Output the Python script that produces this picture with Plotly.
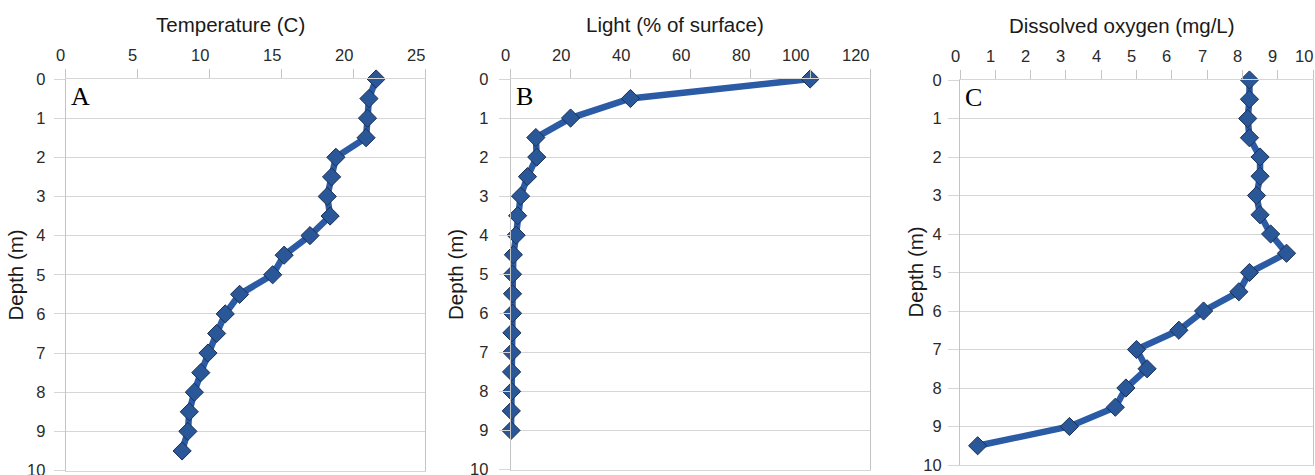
import plotly.graph_objects as go

# ---- data ----
depth_temp = [0, 0.5, 1, 1.5, 2, 2.5, 3, 3.5, 4, 4.5, 5, 5.5, 6, 6.5, 7, 7.5, 8, 8.5, 9, 9.5]
temperature = [21.6, 21.1, 21.0, 20.9, 18.8, 18.5, 18.2, 18.4, 17.0, 15.2, 14.4, 12.1, 11.1, 10.5, 9.9, 9.4, 8.95, 8.6, 8.5, 8.1]

depth_light = [0, 0.5, 1, 1.5, 2, 2.5, 3, 3.5, 4, 4.5, 5, 5.5, 6, 6.5, 7, 7.5, 8, 8.5, 9]
light = [100, 40, 20, 8.4, 8.7, 5.6, 3.3, 2.3, 1.8, 0.9, 0.6, 0.6, 0.6, 0.4, 0.4, 0.3, 0.3, 0.2, 0.1]

depth_do = [0, 0.5, 1, 1.5, 2, 2.5, 3, 3.5, 4, 4.5, 5, 5.5, 6, 6.5, 7, 7.5, 8, 8.5, 9, 9.5]
dissolved_oxygen = [8.2, 8.2, 8.15, 8.2, 8.5, 8.5, 8.4, 8.5, 8.8, 9.25, 8.2, 7.9, 6.9, 6.2, 5.0, 5.3, 4.7, 4.4, 3.1, 0.5]

x_titles = ["Temperature (C)", "Light (% of surface)", "Dissolved oxygen (mg/L)"]
panel_letters = ["A", "B", "C"]
y_title = "Depth (m)"
x_ranges = [[0, 25], [0, 120], [0, 10]]
temp_ticks = [0, 5, 10, 15, 20, 25]
light_ticks = [0, 20, 40, 60, 80, 100, 120]
do_ticks = [0, 1, 2, 3, 4, 5, 6, 7, 8, 9, 10]
x_tick_lists = [temp_ticks, light_ticks, do_ticks]
depth_ticks = [0, 1, 2, 3, 4, 5, 6, 7, 8, 9, 10]

# ---- layout geometry (pixels) ----
W, H = 1315, 475
plot_px = [  # left, right, top, bottom
    (65.7, 425.0, 79.0, 470.5),
    (510.7, 870.0, 79.0, 469.5),
    (960.0, 1313.0, 80.0, 465.0),
]
ytitle_shift = [-50, -55, -45]
ylabel_standoff = [5, 7, 3]

LINE_COLOR = "#2b5ba5"
MARKER_FILL = "#2a5797"
MARKER_EDGE = "#1a2f55"
GRID = "#d6d6d6"
AXLINE = "#c4c4c4"
TICKFONT = dict(family="Liberation Sans, Arial, sans-serif", size=16.5, color="#2a2a2a")
TITLEFONT = dict(family="Liberation Sans, Arial, sans-serif", size=20.5, color="#1a1a1a")

fig = go.Figure()
series = [(temperature, depth_temp), (light, depth_light), (dissolved_oxygen, depth_do)]
for i, (xs, ys) in enumerate(series):
    sfx = "" if i == 0 else str(i + 1)
    fig.add_trace(go.Scatter(
        x=xs, y=ys, mode="lines+markers",
        xaxis="x" + sfx, yaxis="y" + sfx,
        line=dict(color=LINE_COLOR, width=6.5),
        marker=dict(symbol="diamond", size=14, color=MARKER_FILL,
                    line=dict(color=MARKER_EDGE, width=1)),
        showlegend=False, hoverinfo="skip", cliponaxis=False,
    ))

layout = dict(
    width=W, height=H,
    margin=dict(l=0, r=0, t=0, b=0, autoexpand=False),
    paper_bgcolor="white", plot_bgcolor="white",
    showlegend=False,
    annotations=[],
)
for i in range(3):
    sfx = "" if i == 0 else str(i + 1)
    l, r, t, b = plot_px[i]
    layout["xaxis" + sfx] = dict(
        domain=[l / W, r / W], anchor="y" + sfx, side="top",
        range=x_ranges[i], tickvals=x_tick_lists[i],
        showgrid=False, zeroline=False,
        ticks="outside", ticklen=9, tickcolor=AXLINE, tickwidth=1,
        showline=True, linecolor=GRID, linewidth=1, mirror=True,
        showticklabels=False, automargin=False,
    )
    layout["yaxis" + sfx] = dict(
        domain=[1 - b / H, 1 - t / H], anchor="x" + sfx,
        range=[10, 0], tickvals=depth_ticks,
        showgrid=True, gridcolor=GRID, gridwidth=1,
        zeroline=False, automargin=False,
        showline=True, linecolor=AXLINE, linewidth=1, mirror=True,
        ticks="outside", ticklen=11, tickcolor=GRID,
        tickfont=TICKFONT, ticklabelstandoff=ylabel_standoff[i],
        ticklabeloverflow="allow",
    )
    xd = "x" + sfx + " domain"
    yd = "y" + sfx + " domain"
    # top tick labels, right-aligned at their ticks
    for v in x_tick_lists[i]:
        layout["annotations"].append(dict(
            text=str(v), x=v, xref="x" + sfx, y=1, yref=yd,
            xanchor="right", yanchor="middle", xshift=1.5, yshift=24,
            showarrow=False, font=TICKFONT))
    layout["annotations"] += [
        dict(text=x_titles[i], xref=xd, yref=yd, x=0.5, y=1, xanchor="center",
             yanchor="middle", xshift=-15, yshift=54, showarrow=False, font=TITLEFONT),
        dict(text=y_title, xref=xd, yref=yd, x=0, y=0.5, xanchor="center",
             yanchor="middle", xshift=ytitle_shift[i], textangle=-90,
             showarrow=False, font=TITLEFONT),
        dict(text=panel_letters[i], xref=xd, yref=yd, x=0, y=1, xanchor="left",
             yanchor="top", xshift=3, yshift=-1, showarrow=False,
             font=dict(family="Liberation Serif, Times New Roman, serif", size=26, color="black")),
    ]

fig.update_layout(**layout)
fig.write_html("out.html")
